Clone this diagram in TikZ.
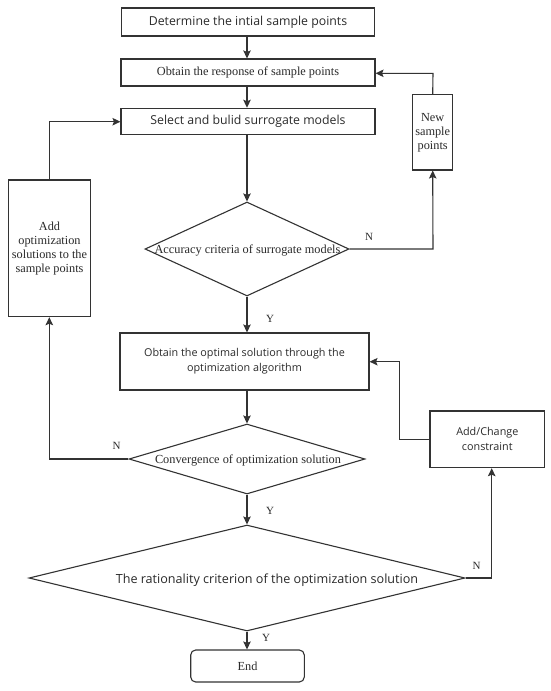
\documentclass[tikz,border=0pt]{standalone}
\usepackage{fontspec}
\setmainfont{Liberation Serif}
\newfontfamily\sansf{Open Sans}
\usetikzlibrary{shapes.geometric,arrows.meta}
\definecolor{ln}{HTML}{333333}
\definecolor{tx}{HTML}{2A2A2A}
\begin{document}
\begin{tikzpicture}[x=1pt,y=-1pt,
  box/.style={draw=ln,line width=1.1pt,rectangle,inner sep=0pt,text=tx,align=center},
  dia/.style={draw=ln,line width=1.1pt,diamond,inner sep=0pt},
  sfA/.style={font=\sansf\fontsize{12.3}{14}\selectfont},
  sfB/.style={font=\sansf\fontsize{10.8}{15}\selectfont},
  sfC/.style={font=\sansf\fontsize{12.6}{14}\selectfont},
  srf/.style={font=\fontsize{12.3}{14}\selectfont},
  lab/.style={font=\fontsize{11}{12}\selectfont,text=tx,inner sep=0pt},
  arr/.style={draw=ln,line width=1.1pt,-{Stealth[length=8pt,width=7.5pt,inset=1.5pt]}}]
\useasboundingbox (0,0) rectangle (550,691);
\fill[white] (0,0) rectangle (550,691);

\node[box,sfA,minimum width=253pt,minimum height=28pt] (b1) at (248,22) {Determine the intial sample points};
\node[box,srf,minimum width=254pt,minimum height=27pt] (b2) at (248,72.5) {Obtain the response of sample points};
\node[box,sfA,minimum width=254pt,minimum height=26pt] (b3) at (248,121.3) {Select and bulid surrogate models};
\node[dia,minimum width=204pt,minimum height=94pt] (d1) at (247,249) {};
\node[srf,text=tx,inner sep=0pt] (d1t) at (247.5,250) {Accuracy criteria of surrogate models};
\node[box,sfB,minimum width=249pt,minimum height=57pt] (b4) at (244.5,361.5) {Obtain the optimal solution through the\\optimization algorithm};
\node[dia,minimum width=236pt,minimum height=70pt] (d2) at (247,459) {};
\node[srf,text=tx,inner sep=0pt] (d2t) at (248,460) {Convergence of optimization solution};
\node[dia,minimum width=436pt,minimum height=106pt] (d3) at (247,578) {};
\node[sfC,text=tx,inner sep=0pt] (d3t) at (267,580) {The rationality criterion of the optimization solution};
\node[box,srf,rounded corners=5pt,minimum width=113.6pt,minimum height=32pt] (e) at (247.5,666) {End};

\node[box,srf,minimum width=82.4pt,minimum height=136.7pt] (ad) at (49.5,248.3) {Add\\optimization\\solutions to the\\sample points};
\node[box,srf,minimum width=40pt,minimum height=75.3pt] (ns) at (432.7,132.3) {New\\sample\\points};
\node[box,sfB,minimum width=114.7pt,minimum height=56.7pt] (ac) at (487.3,439.3) {Add/Change\\constraint};

% main column
\draw[arr] (d1.north |- b1.south) -- (d1.north |- b2.north);
\draw[arr] (d1.north |- b2.south) -- (d1.north |- b3.north);
\draw[arr] (d1.north |- b3.south) -- (d1.north);
\draw[arr] (d1.south) -- (d1.south |- b4.north);
\draw[arr] (d1.south |- b4.south) -- (d2.north);
\draw[arr] (d2.south) -- (d3.north);
\draw[arr] (d3.south) -- (d3.south |- e.north);

% loops
\coordinate (c1) at (433,249);
\coordinate (c2) at (433,73.3);
\draw[arr] (d1.east) -- (c1) -- (ns.south);
\draw[arr] (ns.north) -- (c2) -- (c2 -| b2.east);
\coordinate (c3) at (49.3,459);
\coordinate (c4) at (49.3,121.7);
\draw[arr] (d2.west) -- (c3) -- (c3 |- ad.south);
\draw[arr] (c3 |- ad.north) -- (c4) -- (c4 -| b3.west);
\coordinate (c5) at (491.7,578);
\draw[arr] (d3.east) -- (c5) -- (c5 |- ac.south);
\coordinate (c6) at (399.3,439.3);
\coordinate (c7) at (399.3,361.7);
\draw[arr] (ac.west |- c6) -- (c6) -- (c7) -- (c7 -| b4.east);

% labels
\node[lab] (l1) at (369,237) {N};
\node[lab] (l2) at (270,319) {Y};
\node[lab] (l3) at (116.7,446) {N};
\node[lab] (l4) at (270,511) {Y};
\node[lab] (l5) at (476.7,566) {N};
\node[lab] (l6) at (266,638) {Y};
\end{tikzpicture}
\end{document}
